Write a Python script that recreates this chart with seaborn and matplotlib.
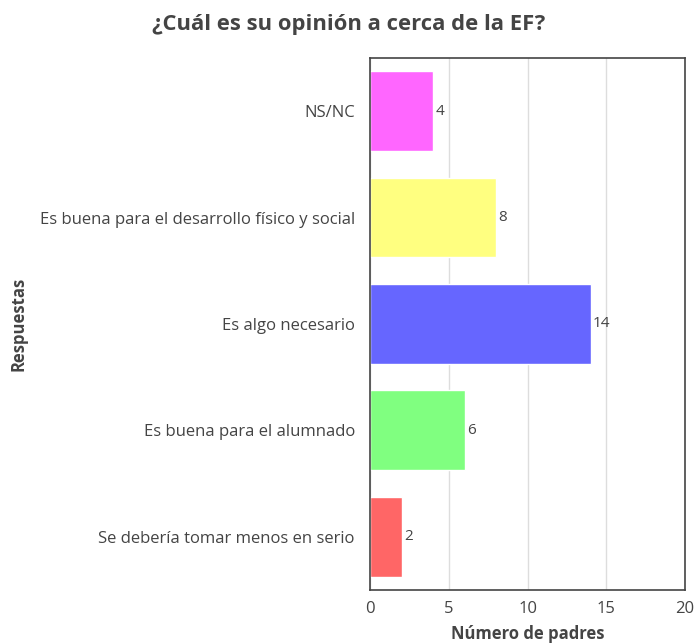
import matplotlib
matplotlib.use("Agg")
import matplotlib.pyplot as plt
import seaborn as sea
import pandas as pd

# Datos
respuestas = [
    "NS/NC",
    "Es buena para el desarrollo físico y social",
    "Es algo necesario",
    "Es buena para el alumnado",
    "Se debería tomar menos en serio",
]
num_padres = [4, 8, 14, 6, 2]
colores = ["#FF66FF", "#FFFF80", "#6666FF", "#80FF80", "#FF6666"]

sea.set_theme(style="white")
plt.rcParams["font.family"] = ["Open Sans", "DejaVu Sans"]

df = pd.DataFrame({"Respuestas": respuestas, "Número de padres": num_padres})

fig = plt.figure(figsize=(6.97, 6.44), dpi=100)
ax = fig.add_axes([0.531, 0.084, 0.452, 0.826])

sea.barplot(data=df, y="Respuestas", x="Número de padres", hue="Respuestas",
            palette=colores, order=respuestas, width=0.75, legend=False,
            saturation=1, ax=ax)

for i, v in enumerate(num_padres):
    ax.text(v + 0.15, i, str(v), va="center", ha="left", fontsize=11, color="#444444")

ax.set_xlim(0, 20)
ax.set_xticks([0, 5, 10, 15, 20])
ax.grid(axis="x", color="#dddddd", linewidth=1)
ax.set_axisbelow(True)
for s in ax.spines.values():
    s.set_color("#444444")
    s.set_linewidth(1.2)

ax.tick_params(axis="x", labelsize=12, colors="#444444", length=0, pad=8)
ax.tick_params(axis="y", labelsize=12, colors="#444444", length=0, pad=11)

ax.set_xlabel("Número de padres", fontsize=12, fontweight="bold", color="#444444", labelpad=6)
ax.set_ylabel("Respuestas", fontsize=12, fontweight="bold", color="#444444")
ax.yaxis.set_label_coords(-1.089, 0.5)

fig.suptitle("¿Cuál es su opinión a cerca de la EF?", fontsize=15.8, fontweight="bold",
             color="#444444", x=0.5, y=0.978)

plt.savefig("out.png", dpi=100)
